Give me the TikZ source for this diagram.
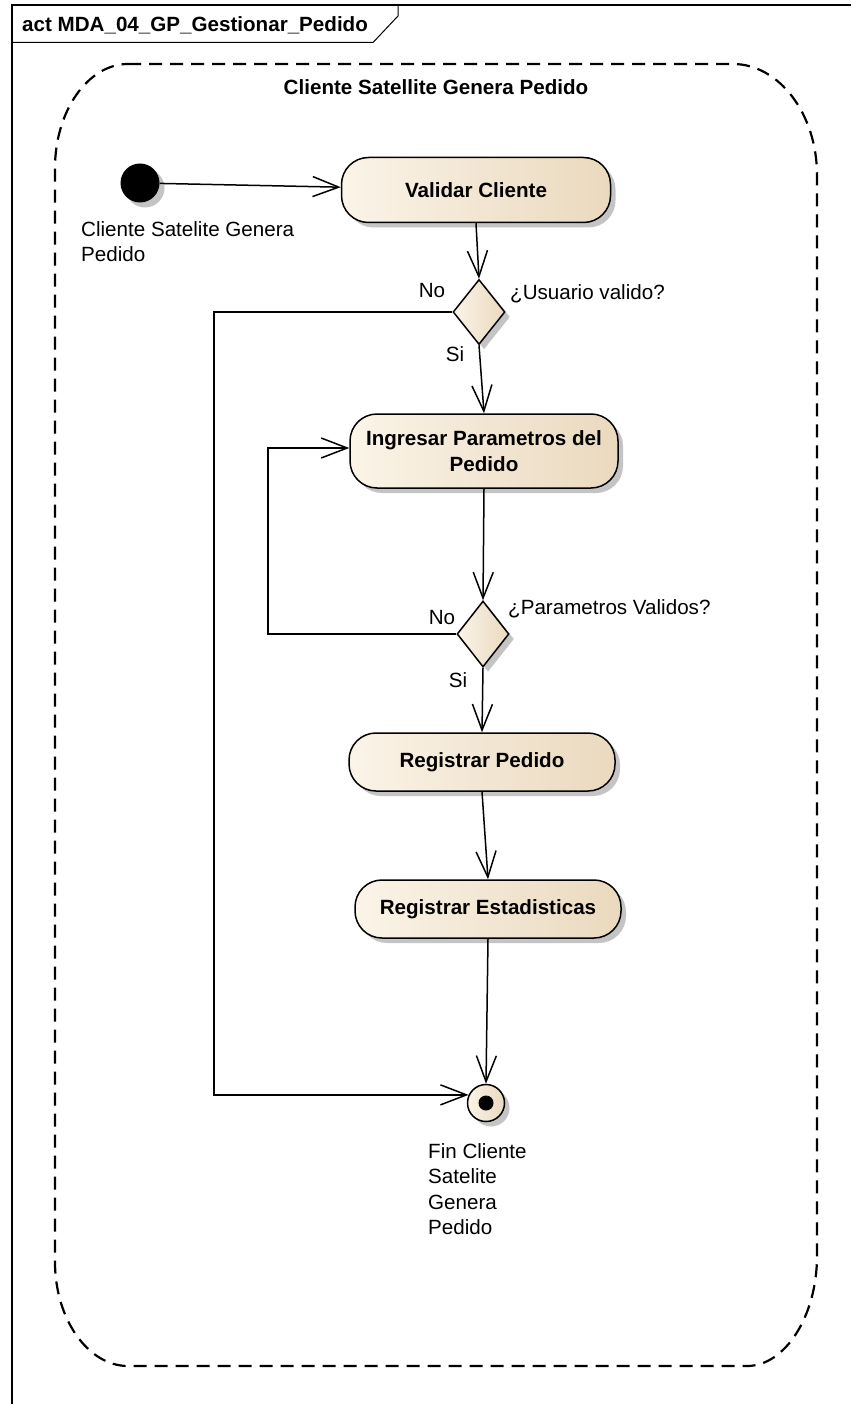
\documentclass[tikz,border=0pt]{standalone}
\usepackage{fontspec}
\setmainfont{Liberation Sans}
\usetikzlibrary{arrows.meta,shapes.geometric,shadows,calc}
\definecolor{creamL}{HTML}{FBF4E8}
\definecolor{creamR}{HTML}{EAD9BE}
\definecolor{shadowgray}{HTML}{C4C4C4}
\begin{document}
\begin{tikzpicture}[x=1pt,y=-1pt,
  txt/.style={font=\fontsize{20.6}{25.6}\selectfont},
  btxt/.style={font=\fontsize{20.6}{25.6}\selectfont\bfseries},
  shad/.style={drop shadow={shadow xshift=5pt,shadow yshift=-5pt,fill=shadowgray,opacity=1}},
  action/.style={draw, line width=1.5pt, rounded corners=27pt, left color=creamL, right color=creamR,
    btxt, align=center, inner sep=0pt, shad},
  decision/.style={diamond, draw, line width=1.5pt, left color=creamL, right color=creamR,
    inner sep=0pt, shad},
  flow/.style={draw, line width=1.5pt, -{Straight Barb[length=26pt,width=20pt,line width=1.5pt]}},
  lbl/.style={txt, inner sep=0pt}
]
\useasboundingbox (0,0) rectangle (851,1404);
\fill[white] (0,0) rectangle (851,1404);

% frame
\draw[line width=2pt] (12,1404) -- (12,5) -- (851,5);
\draw[line width=1pt] (12,42.5) -- (373,42.5) -- (398,16) -- (398,5);
\node[btxt, anchor=base west, inner sep=0pt] (title) at (22,32) {act MDA\_04\_GP\_Gestionar\_Pedido};

% partition
\draw[line width=2.2pt, dash pattern=on 13pt off 8pt]
  (128,64) -- (733,64) .. controls (779,64) and (817,114) .. (817,175)
  -- (817,1256) .. controls (817,1316) and (785,1366) .. (747,1366)
  -- (128,1366) .. controls (88,1366) and (55,1319) .. (55,1262)
  -- (55,168) .. controls (55,111) and (88,64) .. (128,64) -- cycle;
\node[btxt, anchor=base, inner sep=0pt] (hdr) at (436,95) {Cliente Satellite Genera Pedido};

% nodes
\node[circle, fill=black, minimum size=39pt, inner sep=0pt, shad] (init) at (140,183) {};
\node[lbl, anchor=north west, align=left] (initlbl) at (81,221) {Cliente Satelite Genera\\Pedido};

\node[action, minimum width=269pt, minimum height=65pt] (validar) at (476,190) {Validar Cliente};
\node[decision, minimum width=52pt, minimum height=65pt] (d1) at (479,312) {};
\node[lbl, anchor=base] (no1) at (432,298) {No};
\node[lbl, anchor=base west] (q1) at (510,300) {¿Usuario valido?};
\node[lbl, anchor=base] (si1) at (455,361) {Si};

\node[action, minimum width=268pt, minimum height=74pt] (ingresar) at (484,451) {Ingresar Parametros del\\Pedido};
\node[decision, minimum width=52pt, minimum height=66pt] (d2) at (483,634) {};
\node[lbl, anchor=base] (no2) at (442,624) {No};
\node[lbl, anchor=base west] (q2) at (508,614) {¿Parametros Validos?};
\node[lbl, anchor=base] (si2) at (458,687) {Si};

\node[action, minimum width=266pt, minimum height=58pt] (regped) at (482,762) {Registrar Pedido};
\node[action, minimum width=266pt, minimum height=58pt] (regest) at (488,909) {Registrar Estadisticas};

\node[circle, draw, line width=1.5pt, left color=creamL, right color=creamR, minimum size=37pt, inner sep=0pt, shad] (final) at (486,1103) {};
\node[circle, fill=black, minimum size=15pt, inner sep=0pt] (finaldot) at (final.center) {};
\node[lbl, anchor=north west, align=left] (finlbl) at (428,1143) {Fin Cliente\\Satelite\\Genera\\Pedido};

\coordinate (noX) at (214,0);
\coordinate (loopX) at (268,0);

% connectors
\draw[flow] (init) -- (validar);
\draw[flow] (validar.south) -- (d1.north);
\draw[flow] (d1.south) -- (ingresar.north);
\draw[flow] (d1.west) -- (d1.west -| noX) |- (final.155);
\draw[flow] (ingresar.south) -- (d2.north);
\draw[flow] (d2.west) -- (d2.west -| loopX) |- ($(ingresar.west)+(0,-3)$);
\draw[flow] (d2.south) -- (regped.north);
\draw[flow] (regped.south) -- (regest.north);
\draw[flow] (regest.south) -- (final.north);
\end{tikzpicture}
\end{document}
